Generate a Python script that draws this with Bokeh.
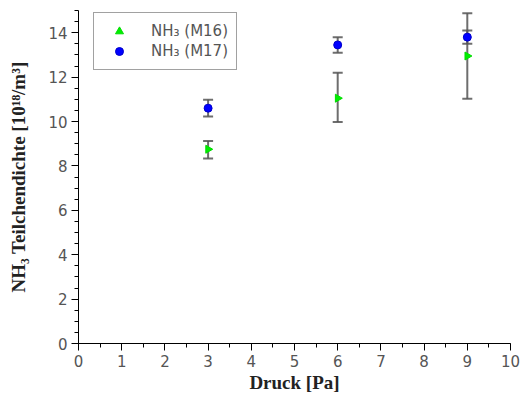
import numpy as np
from bokeh.plotting import figure
from bokeh.models import (ColumnDataSource, Whisker, TeeHead, SingleIntervalTicker,
                          Legend, LegendItem, Range1d)
from bokeh.embed import file_html
from bokeh.resources import INLINE

# Data
druck = [3, 6, 9]
m16 = [8.75, 11.05, 12.95]
m16_lo = [8.33, 9.98, 11.02]
m16_hi = [9.12, 12.2, 14.88]
m17 = [10.6, 13.45, 13.8]
m17_lo = [10.22, 13.1, 13.5]
m17_hi = [10.98, 13.8, 14.1]

x_ticks_interval = 1
y_ticks_interval = 2

p = figure(width=520, height=403, output_backend="svg", toolbar_location=None,
           x_range=Range1d(0, 10), y_range=Range1d(0, 15),
           min_border_left=78, min_border_right=10, min_border_top=10, min_border_bottom=60)
p.outline_line_color = None
p.grid.visible = False
p.background_fill_color = "white"
p.border_fill_color = "white"

s16 = ColumnDataSource(dict(x=druck, y=m16, lo=m16_lo, hi=m16_hi,
                            ang=[-np.pi / 2] * len(druck)))
s17 = ColumnDataSource(dict(x=druck, y=m17, lo=m17_lo, hi=m17_hi))

for s in (s17, s16):
    w = Whisker(source=s, base="x", lower="lo", upper="hi", line_color="#555555", line_width=2,
                line_alpha=0.85,
                upper_head=TeeHead(size=10, line_color="#555555", line_width=2, line_alpha=0.85),
                lower_head=TeeHead(size=10, line_color="#555555", line_width=2, line_alpha=0.85))
    p.add_layout(w)

r17 = p.scatter("x", "y", source=s17, marker="circle", size=8, fill_color="#0000ff",
                line_color="#0000cc")
r16 = p.scatter("x", "y", source=s16, marker="triangle", size=8, angle="ang",
                fill_color="#00ee00", line_color="#00dd00")

ax = p.xaxis[0]
ax.ticker = SingleIntervalTicker(interval=x_ticks_interval, num_minor_ticks=2)
ay = p.yaxis[0]
ay.ticker = SingleIntervalTicker(interval=y_ticks_interval, num_minor_ticks=4)
for a in (ax, ay):
    a.axis_line_color = "black"
    a.major_tick_line_color = "black"
    a.minor_tick_line_color = "black"
    a.major_tick_out = 7
    a.major_tick_in = 0
    a.minor_tick_out = 4
    a.minor_tick_in = 0
    a.major_label_text_font = "DejaVu Sans"
    a.major_label_text_font_size = "15px"
    a.major_label_text_color = "#555555"
    a.axis_label_text_font = "Liberation Serif"
    a.axis_label_text_font_style = "bold"
    a.axis_label_text_font_size = "19px"
    a.axis_label_text_color = "#222222"

ax.axis_label = "Druck [Pa]"
ax.major_label_standoff = 4
ax.axis_label_standoff = 2
ay.axis_label = "NH₃ Teilchendichte [10¹⁸/m³]"
ay.major_label_standoff = 4
ay.axis_label_standoff = 16

legend = Legend(items=[LegendItem(label="NH₃ (M16)", renderers=[r16], index=0),
                       LegendItem(label="NH₃ (M17)", renderers=[r17], index=0)],
                location=(15, 273))
legend.border_line_color = "#444444"
legend.border_line_width = 1
legend.padding = 8
legend.margin = 0
legend.spacing = 0
legend.glyph_width = 34
legend.label_height = 20
legend.label_standoff = 15
legend.label_text_font = "DejaVu Sans"
legend.label_text_font_size = "15px"
legend.label_text_color = "#555555"
legend.background_fill_alpha = 1
p.add_layout(legend)

open("out.html", "w").write(file_html(p, INLINE))
